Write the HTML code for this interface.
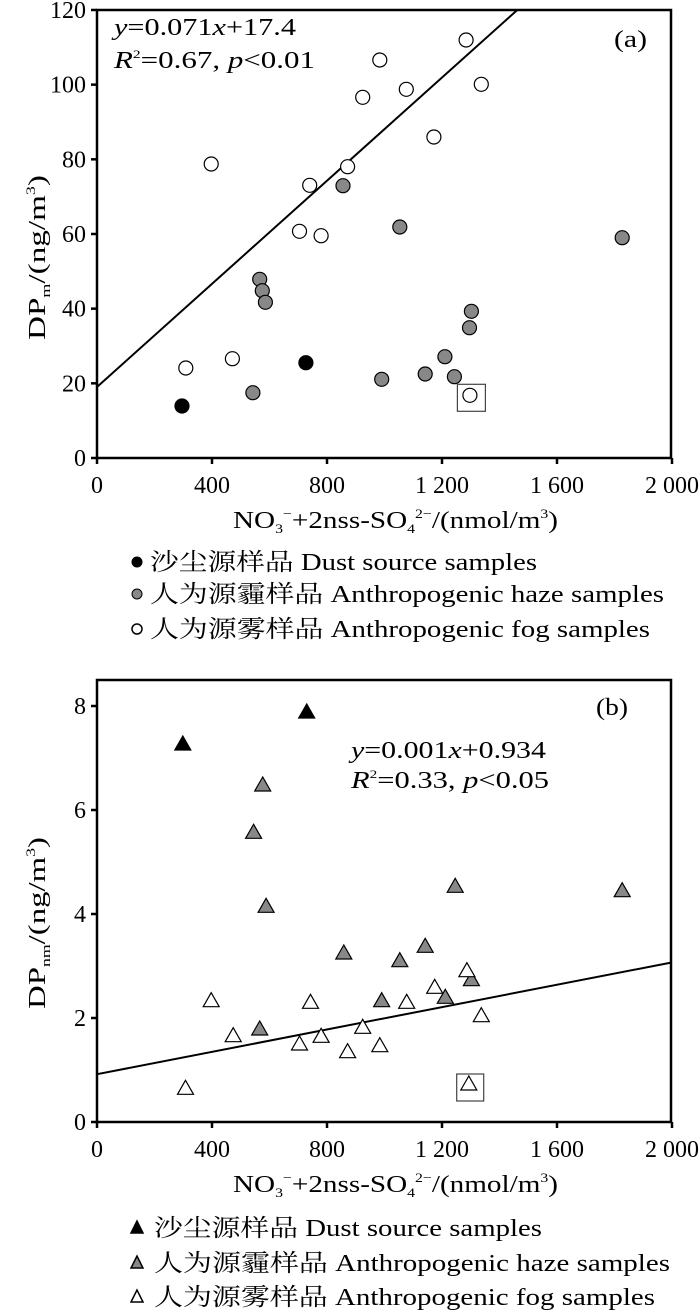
<!DOCTYPE html>
<html><head><meta charset="utf-8">
<style>
body{margin:0;background:#fff;}
svg{display:block;font-family:"Liberation Serif","Noto Serif CJK SC",serif;}
</style></head>
<body>
<svg id="s" width="700" height="1312" xmlns="http://www.w3.org/2000/svg"></svg>
<script>
const S=document.getElementById('s');let h='';
const X=x=>97+x*0.2875;
function axes(y0,top,n,ystep,pxstep,lab,ylEnd,ylLen){
  h+=`<rect x="97" y="${top}" width="574" height="${y0-top}" fill="none" stroke="#000" stroke-width="2.5"/>`;
  for(let i=0;i<=5;i++){const px=X(i*400);h+=`<line x1="${px}" y1="${y0}" x2="${px}" y2="${y0+6}" stroke="#000" stroke-width="2.5"/>`;
   const t=['0','400','800','1 200','1 600','2 000'][i];
   h+=`<text x="${px}" y="${y0+35}" font-size="24" text-anchor="middle">${t}</text>`;}
  for(let i=0;i<=n;i++){const py=y0-pxstep*i;h+=`<line x1="91" y1="${py}" x2="97" y2="${py}" stroke="#000" stroke-width="2.5"/>`;
   h+=`<text x="86" y="${py+8}" font-size="24" text-anchor="end">${i*ystep}</text>`;}
  h+=`<text x="233" y="${y0+70}" font-size="24" textLength="325" lengthAdjust="spacingAndGlyphs">NO<tspan font-size="13" dy="5">3</tspan><tspan font-size="13" dy="-15">−</tspan><tspan dy="10">+2nss-SO</tspan><tspan font-size="13" dy="5">4</tspan><tspan font-size="13" dy="-15">2−</tspan><tspan dy="10">/(nmol/m</tspan><tspan font-size="13" dy="-10">3</tspan><tspan dy="10">)</tspan></text>`;
  h+=`<text transform="translate(45,${ylEnd+ylLen}) rotate(-90)" font-size="24" textLength="${ylLen}" lengthAdjust="spacingAndGlyphs">DP<tspan font-size="13" dy="5">${lab}</tspan><tspan dy="-5">/(ng/m</tspan><tspan font-size="13" dy="-10">3</tspan><tspan dy="10">)</tspan></text>`;
}
const C=(x,y,f)=>`<circle cx="${x}" cy="${y}" r="7" fill="${f}" stroke="#000" stroke-width="1.2"/>`;
const T=(x,y,f)=>`<polygon points="${x},${y-9} ${x-8},${y+5} ${x+8},${y+5}" fill="${f}" stroke="#000" stroke-width="1.2"/>`;
const leg=(y,x,m,zh,en,L)=>{h+=m+`<text x="${x}" y="${y+8}" font-size="24" textLength="${L}" lengthAdjust="spacingAndGlyphs">${zh} ${en}</text>`;};
// (a)
axes(458,10,6,20,74.67,'m',175,165);
h+=`<line x1="97" y1="387" x2="517.3" y2="10" stroke="#000" stroke-width="2"/>`;
[[182,406],[305.9,362.7]].forEach(p=>h+=C(p[0],p[1],'#000'));
[[252.9,392.7],[259.7,279.3],[262.3,290.7],[265.4,302.3],[343,185.7],[399.8,227],[381.7,379.3],[425.2,374],[444.9,356.7],[454.4,376.7],[471.4,311.3],[469.5,327.7],[622.2,237.7]].forEach(p=>h+=C(p[0],p[1],'#888'));
[[185.8,368],[211.2,164],[232.4,358.7],[299.5,231.3],[309.7,185.3],[321.1,235.7],[347.6,166.7],[362.7,97.3],[379.8,60],[406.3,89.3],[433.9,137],[466.1,40],[481.3,84.3],[469.9,395.3]].forEach(p=>h+=C(p[0],p[1],'#fff'));
h+=`<rect x="457.4" y="384.3" width="28" height="27" fill="none" stroke="#444" stroke-width="1.2"/>`;
h+=`<text x="114" y="35" font-size="24" textLength="182" lengthAdjust="spacingAndGlyphs"><tspan font-style="italic">y</tspan>=0.071<tspan font-style="italic">x</tspan>+17.4</text>`;
h+=`<text x="114" y="68" font-size="24" textLength="201" lengthAdjust="spacingAndGlyphs"><tspan font-style="italic">R</tspan><tspan font-size="12" dy="-10">2</tspan><tspan dy="10">=0.67,  </tspan><tspan font-style="italic">p</tspan>&lt;0.01</text>`;
h+=`<text x="614" y="47" font-size="24" textLength="33" lengthAdjust="spacingAndGlyphs">(a)</text>`;
leg(562,150,`<circle cx="137" cy="562" r="5" fill="#000" stroke="#000"/>`,'沙尘源样品','Dust source samples',387);
leg(594,150,`<circle cx="137" cy="594" r="5" fill="#888" stroke="#000"/>`,'人为源霾样品','Anthropogenic haze samples',514);
leg(629,150,`<circle cx="137" cy="629" r="5" fill="#fff" stroke="#000" stroke-width="1.5"/>`,'人为源雾样品','Anthropogenic fog samples',500);
// (b)
axes(1122,680,4,2,104,'nm',837,172);
h+=`<line x1="97" y1="1074.2" x2="671" y2="962.6" stroke="#000" stroke-width="2"/>`;
[[182.8,745],[306.7,713]].forEach(p=>h+=T(p[0],p[1],'#000'));
[[262.7,786],[253.6,833.3],[266.1,907.3],[259.7,1030],[343.8,954],[399.8,961.7],[425.2,947.3],[455.2,887.3],[622.2,891.7],[381.7,1001.7],[445.3,998.3],[471.4,980.7]].forEach(p=>h+=T(p[0],p[1],'#888'));
[[211.2,1001.7],[185.5,1089.3],[233.2,1036.7],[310.5,1003.3],[299.5,1045],[321.1,1037.3],[347.6,1052.7],[362.7,1028.3],[379.8,1046.7],[406.7,1003.3],[434.7,988.3],[466.9,971.7],[481.3,1016.7],[468.8,1085]].forEach(p=>h+=T(p[0],p[1],'#fff'));
h+=`<rect x="456.7" y="1074" width="27" height="27" fill="none" stroke="#444" stroke-width="1.2"/>`;
h+=`<text x="596" y="715" font-size="24" textLength="32" lengthAdjust="spacingAndGlyphs">(b)</text>`;
h+=`<text x="351" y="758" font-size="24" textLength="195" lengthAdjust="spacingAndGlyphs"><tspan font-style="italic">y</tspan>=0.001<tspan font-style="italic">x</tspan>+0.934</text>`;
h+=`<text x="351" y="788" font-size="24" textLength="198" lengthAdjust="spacingAndGlyphs"><tspan font-style="italic">R</tspan><tspan font-size="12" dy="-10">2</tspan><tspan dy="10">=0.33,  </tspan><tspan font-style="italic">p</tspan>&lt;0.05</text>`;
const tri=(y,f)=>`<polygon points="137,${y-7} 131,${y+5} 143,${y+5}" fill="${f}" stroke="#000" stroke-width="1.5"/>`;
leg(1228,154,tri(1228,'#000'),'沙尘源样品','Dust source samples',388);
leg(1263,154,tri(1263,'#888'),'人为源霾样品','Anthropogenic haze samples',516);
leg(1297,154,tri(1297,'#fff'),'人为源雾样品','Anthropogenic fog samples',501);
S.innerHTML=h;
</script>
</body></html>
